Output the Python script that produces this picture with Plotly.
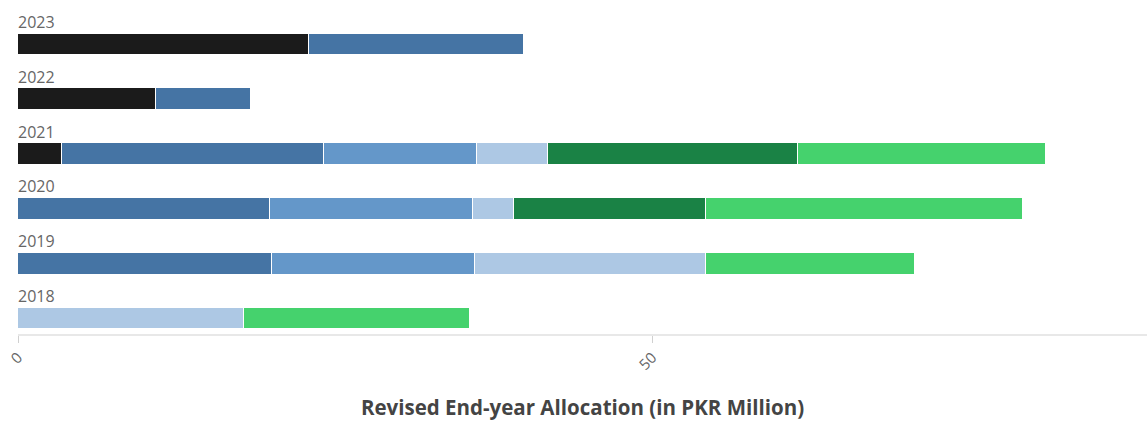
import plotly.graph_objects as go

# Fiscal years, bottom to top
years = ["2018", "2019", "2020", "2021", "2022", "2023"]

# Revised end-year allocation per budget component (PKR million)
component_1 = [0.0, 0.0, 0.0, 3.45, 10.9, 22.9]
component_2 = [0.0, 20.0, 19.9, 20.7, 7.5, 17.0]
component_3 = [0.0, 16.0, 16.0, 12.0, 0.0, 0.0]
component_4 = [17.8, 18.2, 3.2, 5.6, 0.0, 0.0]
component_5 = [0.0, 0.0, 15.1, 19.7, 0.0, 0.0]
component_6 = [17.85, 16.5, 25.0, 19.6, 0.0, 0.0]

series = [
    ("Component 1", component_1, "#1b1b1b"),
    ("Component 2", component_2, "#4574a4"),
    ("Component 3", component_3, "#6497c9"),
    ("Component 4", component_4, "#adc8e4"),
    ("Component 5", component_5, "#1a8245"),
    ("Component 6", component_6, "#45d26d"),
]

x_ticks = [0, 50]

positions = list(range(len(years)))

fig = go.Figure()
for name, values, color in series:
    fig.add_trace(go.Bar(
        name=name,
        y=positions,
        x=values,
        orientation="h",
        width=0.40,
        marker=dict(color=color, line=dict(color="white", width=1.5)),
        hovertemplate="%{x} PKR Million<extra>" + name + "</extra>",
    ))

# Year labels sit above each bar, flush with the zero line
for pos, year in zip(positions, years):
    fig.add_annotation(
        x=0, y=pos + 0.41, xref="x", yref="y",
        text=year, showarrow=False,
        xanchor="left", yanchor="middle", xshift=-2,
        font=dict(family="Open Sans", size=16, color="#666666"),
    )

fig.update_layout(
    barmode="stack",
    width=1147, height=421,
    margin=dict(l=18, r=0, t=0, b=87),
    plot_bgcolor="white",
    paper_bgcolor="white",
    showlegend=False,
    bargap=0,
    xaxis=dict(
        range=[0, 89.0],
        tickvals=x_ticks,
        ticktext=[str(v) for v in x_ticks],
        tickangle=-45,
        ticks="outside",
        ticklen=7,
        tickcolor="#d0d0d0",
        tickfont=dict(family="Open Sans", size=15, color="#666666"),
        showgrid=False,
        zeroline=False,
        showline=True,
        linecolor="#e8e8e8",
        linewidth=2,
        title=dict(
            text="<b>Revised End-year Allocation (in PKR Million)</b>",
            font=dict(family="Open Sans", size=20.5, color="#444444"),
            standoff=32,
        ),
    ),
    yaxis=dict(
        range=[-0.283, 5.812],
        showticklabels=False,
        showgrid=False,
        zeroline=False,
        showline=False,
        ticks="",
    ),
)

fig.write_html("out.html")
